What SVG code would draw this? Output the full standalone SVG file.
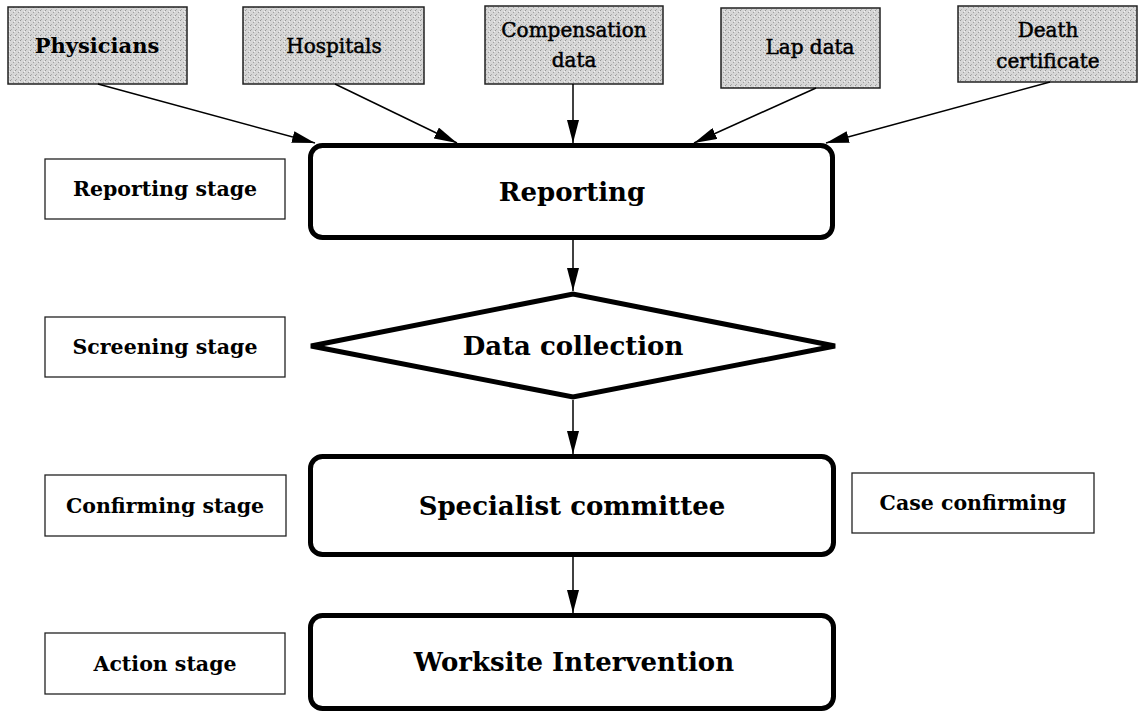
<svg xmlns="http://www.w3.org/2000/svg" width="1143" height="712" viewBox="0 0 1143 712">
<style>
  .src { stroke:#222; stroke-width:1.5; }
  .stage { fill:#fff; stroke:#222; stroke-width:1.3; }
  .main { fill:#fff; stroke:#000; stroke-width:5; }
  .conn { stroke:#000; stroke-width:1.5; fill:none; marker-end:url(#ah); }
  text { font-family:"DejaVu Serif","Liberation Serif",serif; fill:#000; text-anchor:middle; }
  .st { font-size:20.5px; font-weight:bold; }
  .mt { font-size:26px; font-weight:bold; }
  .sr { font-size:20px; font-weight:normal; stroke:#000; stroke-width:0.5; }
  .srb { font-size:21px; font-weight:bold; }
</style>
<defs>
  <pattern id="stip" width="5" height="5" patternUnits="userSpaceOnUse">
    <rect width="5" height="5" fill="#d6d6d6"/>
    <rect x="0" y="0" width="1" height="1" fill="#959595"/>
    <rect x="3" y="2" width="1" height="1" fill="#a0a0a0"/>
    <rect x="1" y="4" width="1" height="1" fill="#acacac"/>
    <rect x="4" y="1" width="1" height="1" fill="#f2f2f2"/>
  </pattern>
  <marker id="ah" markerUnits="userSpaceOnUse" markerWidth="24" markerHeight="12" refX="23" refY="6" orient="auto">
    <path d="M0,0 L23,6 L0,12 z" fill="#000"/>
  </marker>
</defs>

<g id="physicians">
  <rect x="8" y="7" width="179" height="77" fill="url(#stip)" class="src"/>
  <text x="97" y="53" class="srb">Physicians</text>
</g>
<g id="hospitals">
  <rect x="243" y="7" width="181" height="77" fill="url(#stip)" class="src"/>
  <text x="334" y="53" class="sr">Hospitals</text>
</g>
<g id="compensation">
  <rect x="485" y="6" width="178" height="78" fill="url(#stip)" class="src"/>
  <text x="574" y="37" class="sr">Compensation</text>
  <text x="574" y="67" class="sr">data</text>
</g>
<g id="lapdata">
  <rect x="721" y="8" width="159" height="80" fill="url(#stip)" class="src"/>
  <text x="810" y="54" class="sr">Lap data</text>
</g>
<g id="death">
  <rect x="958" y="6" width="179" height="76" fill="url(#stip)" class="src"/>
  <text x="1048" y="37" class="sr">Death</text>
  <text x="1048" y="68" class="sr">certificate</text>
</g>

<g id="reporting-stage">
  <rect x="45" y="159" width="240" height="60" class="stage"/>
  <text x="165" y="196" class="st">Reporting stage</text>
</g>
<g id="screening-stage">
  <rect x="45" y="317" width="240" height="60" class="stage"/>
  <text x="165" y="354" class="st">Screening stage</text>
</g>
<g id="confirming-stage">
  <rect x="45" y="475" width="241" height="61" class="stage"/>
  <text x="165" y="513" class="st">Confirming stage</text>
</g>
<g id="action-stage">
  <rect x="45" y="633" width="240" height="61" class="stage"/>
  <text x="165" y="671" class="st">Action stage</text>
</g>
<g id="case-confirming">
  <rect x="852" y="473" width="242" height="60" class="stage"/>
  <text x="973" y="510" class="st">Case confirming</text>
</g>

<g id="reporting">
  <rect x="310.5" y="145.5" width="522" height="92" rx="12" class="main"/>
  <text x="572" y="201" class="mt">Reporting</text>
</g>
<g id="data-collection">
  <polygon points="311,346 573,294 835,346 573,397" class="main" stroke-width="6"/>
  <text x="573" y="355" class="mt">Data collection</text>
</g>
<g id="specialist">
  <rect x="310.5" y="456.5" width="523" height="98" rx="12" class="main"/>
  <text x="572" y="515" class="mt">Specialist committee</text>
</g>
<g id="worksite">
  <rect x="310.5" y="615.5" width="523" height="93" rx="12" class="main"/>
  <text x="574" y="671" class="mt">Worksite Intervention</text>
</g>

<g id="connectors">
  <line x1="98" y1="84" x2="315" y2="143" class="conn"/>
  <line x1="335" y1="84" x2="457" y2="143" class="conn"/>
  <line x1="573" y1="84" x2="573" y2="143" class="conn"/>
  <line x1="816" y1="88" x2="694" y2="143" class="conn"/>
  <line x1="1050" y1="82" x2="826" y2="143" class="conn"/>
  <line x1="573" y1="240" x2="573" y2="291" class="conn"/>
  <line x1="573" y1="400" x2="573" y2="454" class="conn"/>
  <line x1="573" y1="557" x2="573" y2="613" class="conn"/>
</g>
</svg>
